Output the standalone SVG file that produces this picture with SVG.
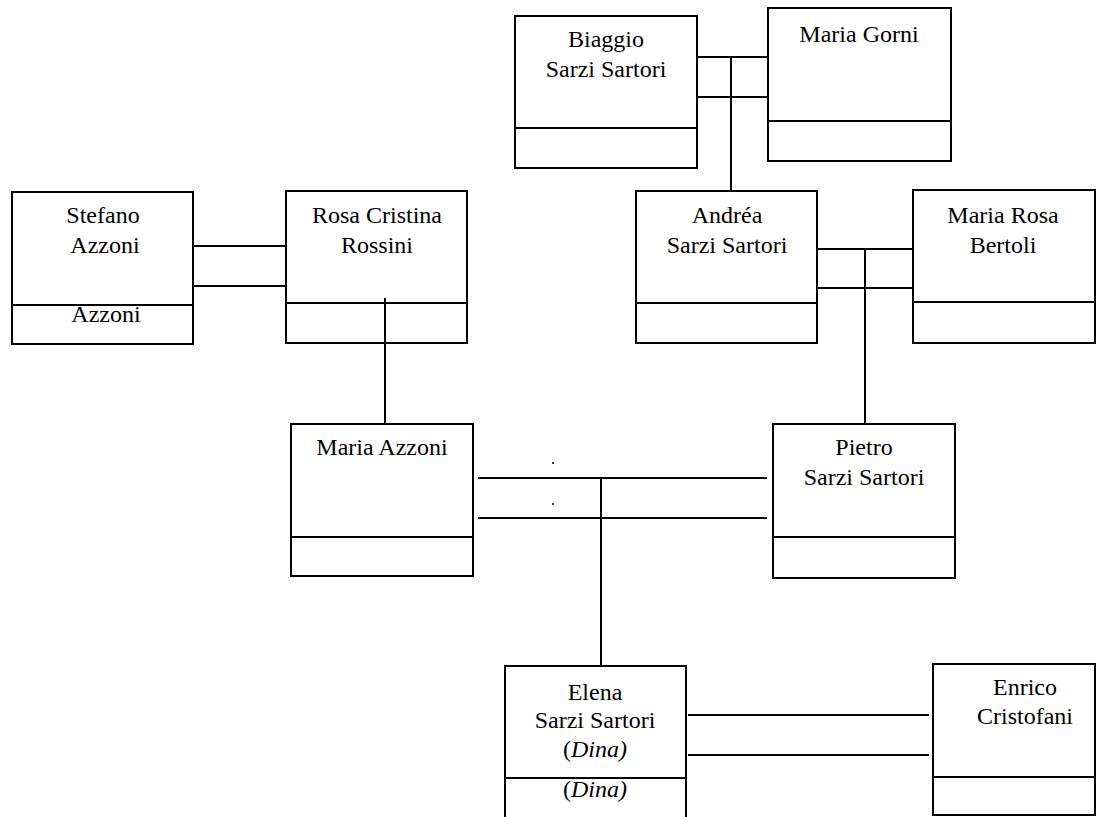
<svg xmlns="http://www.w3.org/2000/svg" width="1104" height="817" viewBox="0 0 1104 817">
  <style>
    .box { fill: #fff; stroke: #000; stroke-width: 2; }
    .div { stroke: #000; stroke-width: 2; }
    .link { stroke: #000; stroke-width: 2; fill: none; }
    .t { font-family: "Liberation Serif", "Times New Roman", Times, "DejaVu Serif", serif; font-size: 24px; fill: #000; text-anchor: middle; }
    .it { font-style: italic; }
  </style>
  <rect width="1104" height="817" fill="#fff"/>

  <g id="biaggio">
    <rect class="box" x="515" y="16" width="182" height="152"/>
    <line class="div" x1="515" y1="128" x2="697" y2="128"/>
    <text class="t" x="606" y="47">Biaggio</text>
    <text class="t" x="606" y="77">Sarzi Sartori</text>
  </g>

  <g id="maria-gorni">
    <rect class="box" x="768" y="8" width="183" height="153"/>
    <line class="div" x1="768" y1="121" x2="951" y2="121"/>
    <text class="t" x="859" y="42">Maria Gorni</text>
  </g>

  <g id="stefano">
    <rect class="box" x="12" y="192" width="181" height="152"/>
    <line class="div" x1="12" y1="305" x2="193" y2="305"/>
    <text class="t" x="103" y="223">Stefano</text>
    <text class="t" x="105" y="253">Azzoni</text>
    <text class="t" x="106" y="322">Azzoni</text>
  </g>

  <g id="rosa-cristina">
    <rect class="box" x="286" y="191" width="181" height="152"/>
    <line class="div" x1="286" y1="303" x2="467" y2="303"/>
    <text class="t" x="377" y="223">Rosa Cristina</text>
    <text class="t" x="377" y="253">Rossini</text>
  </g>

  <g id="andrea">
    <rect class="box" x="636" y="191" width="181" height="152"/>
    <line class="div" x1="636" y1="303" x2="817" y2="303"/>
    <text class="t" x="727" y="223">Andréa</text>
    <text class="t" x="727" y="253">Sarzi Sartori</text>
  </g>

  <g id="maria-rosa">
    <rect class="box" x="913" y="190" width="182" height="153"/>
    <line class="div" x1="913" y1="302" x2="1095" y2="302"/>
    <text class="t" x="1003" y="223">Maria Rosa</text>
    <text class="t" x="1003" y="253">Bertoli</text>
  </g>

  <g id="maria-azzoni">
    <rect class="box" x="291" y="424" width="182" height="152"/>
    <line class="div" x1="291" y1="537" x2="473" y2="537"/>
    <text class="t" x="382" y="455">Maria Azzoni</text>
  </g>

  <g id="pietro">
    <rect class="box" x="773" y="424" width="182" height="154"/>
    <line class="div" x1="773" y1="537" x2="955" y2="537"/>
    <text class="t" x="864" y="455">Pietro</text>
    <text class="t" x="864" y="485">Sarzi Sartori</text>
  </g>

  <g id="elena">
    <path class="box" d="M505,818 V666 H686 V818"/>
    <line class="div" x1="505" y1="778" x2="686" y2="778"/>
    <text class="t" x="595" y="700">Elena</text>
    <text class="t" x="595" y="728">Sarzi Sartori</text>
    <text class="t" x="595" y="757">(<tspan class="it">Dina)</tspan></text>
    <text class="t" x="595" y="797">(<tspan class="it">Dina)</tspan></text>
  </g>

  <g id="enrico">
    <rect class="box" x="933" y="664" width="162" height="151"/>
    <line class="div" x1="933" y1="777" x2="1095" y2="777"/>
    <text class="t" x="1025" y="695">Enrico</text>
    <text class="t" x="1025" y="724">Cristofani</text>
  </g>

  <!-- connectors, drawn over the boxes -->
  <g id="connectors">
    <!-- Biaggio = Maria Gorni -->
    <line class="link" x1="697" y1="57" x2="768" y2="57"/>
    <line class="link" x1="697" y1="97" x2="768" y2="97"/>
    <line class="link" x1="731" y1="57" x2="731" y2="191"/>
    <!-- Stefano = Rosa Cristina -->
    <line class="link" x1="193" y1="246" x2="286" y2="246"/>
    <line class="link" x1="193" y1="286" x2="286" y2="286"/>
    <line class="link" x1="385" y1="298" x2="385" y2="424"/>
    <!-- Andréa = Maria Rosa -->
    <line class="link" x1="817" y1="249" x2="913" y2="249"/>
    <line class="link" x1="817" y1="288" x2="913" y2="288"/>
    <line class="link" x1="865" y1="249" x2="865" y2="424"/>
    <!-- Maria Azzoni = Pietro -->
    <line class="link" x1="478" y1="478" x2="767" y2="478"/>
    <line class="link" x1="478" y1="518" x2="767" y2="518"/>
    <line class="link" x1="601" y1="478" x2="601" y2="666"/>
    <circle cx="553" cy="463" r="1" fill="#000"/>
    <circle cx="553" cy="504" r="1" fill="#000"/>
    <!-- Elena = Enrico -->
    <line class="link" x1="688" y1="715" x2="929" y2="715"/>
    <line class="link" x1="688" y1="755" x2="929" y2="755"/>
  </g>
</svg>
